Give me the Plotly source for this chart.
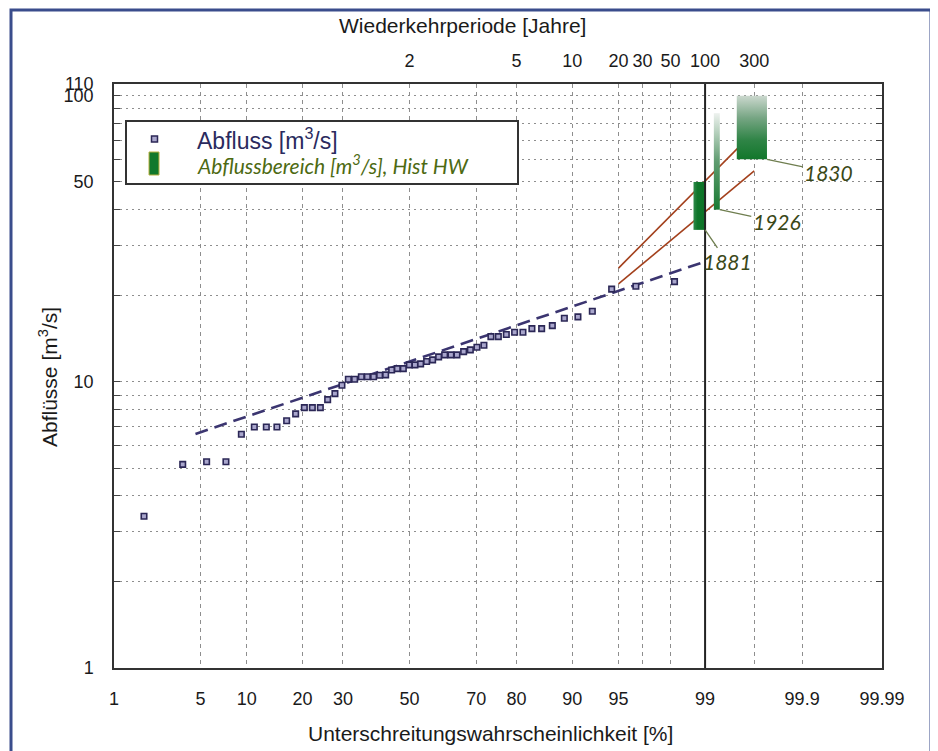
import math
from statistics import NormalDist
import plotly.graph_objects as go

# ---------------- data ----------------
prob_ticks = [1, 5, 10, 20, 30, 50, 70, 80, 90, 95, 99, 99.9, 99.99]
prob_labels = ["1", "5", "10", "20", "30", "50", "70", "80", "90", "95", "99", "99.9", "99.99"]
return_periods = [2, 5, 10, 20, 30, 50, 100, 300]
return_labels = ["2", "5", "10", "20", "30", "50", "100", "300"]
q_ticks = [1, 10, 50, 100, 110]
q_tick_labels = ["1", "10", "50", "100", "110"]
q_minor = [2, 3, 4, 5, 6, 7, 8, 9, 20, 30, 40, 60, 70, 80, 90]

# observed annual peaks: plotting position [%] and discharge [m3/s]
abfluss_p = [1.83, 3.71, 5.51, 7.42, 9.28, 11.09, 12.98, 14.83, 16.67, 18.50,
             20.38, 22.21, 24.13, 25.96, 27.85, 29.73, 31.50, 33.28, 35.22, 36.99,
             38.87, 40.70, 42.54, 44.40, 46.18, 48.05, 49.94, 51.70, 53.48, 55.35,
             57.21, 59.06, 60.88, 62.77, 64.55, 66.49, 68.39, 70.21, 72.09, 73.91,
             75.77, 77.69, 79.59, 81.40, 83.23, 85.08, 86.95, 88.85, 90.75, 92.49,
             94.42, 96.26, 98.15]
abfluss_q = [3.39, 5.15, 5.26, 5.26, 6.56, 6.96, 6.96, 6.96, 7.32, 7.73,
             8.13, 8.13, 8.13, 8.67, 9.10, 9.74, 10.22, 10.22, 10.43, 10.43,
             10.43, 10.55, 10.58, 11.01, 11.13, 11.13, 11.47, 11.47, 11.56, 11.78,
             11.94, 12.23, 12.43, 12.43, 12.43, 12.76, 12.94, 13.22, 13.44, 14.40,
             14.40, 14.64, 14.92, 14.92, 15.36, 15.36, 15.73, 16.70, 16.88, 17.67,
             21.10, 21.61, 22.42]

# fitted distribution (dashed)
fit_p = [4.6, 99.0]
fit_q = [6.58, 26.34]

# extrapolation lines (red)
upper_p = [95.0, 99.667]
upper_q = [25.0, 75.0]
lower_p = [95.0, 99.667]
lower_q = [22.0, 54.7]

# historical floods: discharge ranges
hist_years = ["1881", "1926", "1830"]
hist_p_left = [98.73, 99.17, 99.50]
hist_p_right = [99.0, 99.27, 99.755]
hist_q_low = [34.0, 40.0, 60.0]
hist_q_high = [50.0, 87.0, 100.0]

ref_line_p = 99.0

# ---------------- helpers ----------------
ND = NormalDist()


def zp(p):
    return ND.inv_cdf(p / 100.0)


# the page has an 8px body margin: build the figure 8px smaller and shifted
OFF = 8
W, H = 938 - OFF, 751 - OFF
PL, PR, PT, PB = 114, 882, 84, 668          # plot area in page pixels
ML, MT = PL - OFF, PT - OFF
MR, MB = W - (PR - OFF), H - (PB - OFF)
PW, PH = PR - PL, PB - PT


def px(x):
    return (x - PL) / PW


def py(y):
    return (PB - y) / PH


GRID = "#8e8e8e"
FONT = "Liberation Sans, Arial, sans-serif"
ITAL = "Lato, Noto Sans, sans-serif"

fig = go.Figure()

# fitted line
fig.add_trace(go.Scatter(
    x=[zp(p) for p in fit_p], y=fit_q, mode="lines",
    line=dict(color="#3b3570", width=2.6, dash="13px,7px"),
    showlegend=False, hoverinfo="skip"))

# red extrapolation lines
for pp, qq in [(upper_p, upper_q), (lower_p, lower_q)]:
    fig.add_trace(go.Scatter(
        x=[zp(p) for p in pp], y=qq, mode="lines",
        line=dict(color="#a3401c", width=1.6),
        showlegend=False, hoverinfo="skip"))

# historical flood ranges
grad = [[0, "#12772b"], [0.3, "#2f8446"], [0.65, "#76a583"], [1, "#cbd8ce"]]
for i, yr in enumerate(hist_years):
    xl, xr = zp(hist_p_left[i]), zp(hist_p_right[i])
    lo, hi = hist_q_low[i], hist_q_high[i]
    kw = dict(
        x=[xl, xr, xr, xl, xl], y=[lo, lo, hi, hi, lo],
        mode="lines", fill="toself", line=dict(width=0, color="rgba(0,0,0,0)"),
        showlegend=False, hoverinfo="skip", name=yr)
    if i == 0:
        kw["fillgradient"] = dict(type="horizontal",
                                  colorscale=[[0, "#2f8a4a"], [0.35, "#0f762a"], [1, "#0d7328"]])
    elif i == 1:
        kw["fillgradient"] = dict(type="vertical",
                                  colorscale=[[0, "#1a7b33"], [0.5, "#5f9c70"], [1, "#eef2ef"]])
    else:
        kw["fillgradient"] = dict(type="vertical", colorscale=grad)
    fig.add_trace(go.Scatter(**kw))

# observed discharge points
fig.add_trace(go.Scatter(
    x=[zp(p) for p in abfluss_p], y=abfluss_q, mode="markers",
    marker=dict(symbol="square", size=5.5, color="#a9a6cc",
                line=dict(color="#2b2756", width=1.6)),
    showlegend=False, name="Abfluss"))

# dummy trace for top axis
fig.add_trace(go.Scatter(x=[zp(50)], y=[None], xaxis="x2", showlegend=False,
                         hoverinfo="skip"))

xr_ = [zp(prob_ticks[0]), zp(prob_ticks[-1])]
fig.update_layout(
    width=W, height=H,
    margin=dict(l=ML, r=MR, t=MT, b=MB),
    paper_bgcolor="white", plot_bgcolor="white",
    font=dict(family=FONT, size=18, color="#1a1a1a"),
    xaxis=dict(
        range=xr_, tickmode="array",
        tickvals=[zp(p) for p in prob_ticks], ticktext=prob_labels,
        showgrid=True, gridcolor=GRID, gridwidth=1, griddash="4px,4px",
        minor=dict(tickvals=[zp(100 - 100 / t) for t in [30, 50, 300]],
                   showgrid=True, gridcolor=GRID, gridwidth=1, griddash="4px,4px"),
        showline=True, linecolor="#333333", linewidth=1.5, mirror=True,
        ticks="", zeroline=False, ticklabelstandoff=14,
        tickfont=dict(size=18, family=FONT)),
    xaxis2=dict(
        overlaying="x", side="top", range=xr_, tickmode="array",
        tickvals=[zp(100 - 100 / t) for t in return_periods], ticktext=return_labels,
        showgrid=False, showline=False, ticks="", zeroline=False,
        ticklabelstandoff=12, tickfont=dict(size=18, family=FONT)),
    yaxis=dict(
        type="log", range=[0, math.log10(110)], tickmode="array",
        tickvals=q_ticks, ticktext=q_tick_labels,
        showgrid=True, gridcolor=GRID, gridwidth=1, griddash="2px,4px",
        minor=dict(tickvals=q_minor, showgrid=True, gridcolor=GRID, gridwidth=1,
                   griddash="2px,4px", ticks="inside", ticklen=6, tickcolor="#444"),
        ticks="inside", ticklen=6, tickcolor="#444",
        showline=True, linecolor="#333333", linewidth=1.5, mirror="ticks",
        zeroline=False, ticklabelstandoff=15, tickfont=dict(size=18, family=FONT)),
)

shapes = []
# T = 100 reference line
shapes.append(dict(type="line", xref="x", yref="paper", x0=zp(ref_line_p), x1=zp(ref_line_p),
                   y0=0, y1=1, line=dict(color="#222222", width=2)))
# outer frame
shapes.append(dict(type="rect", xref="paper", yref="paper",
                   x0=px(11), x1=px(931), y0=py(760), y1=py(10),
                   line=dict(color="#3a4d8c", width=3)))
# legend box & symbols
shapes.append(dict(type="rect", xref="paper", yref="paper",
                   x0=px(126), x1=px(518), y0=py(184), y1=py(121),
                   line=dict(color="#333333", width=2), fillcolor="white"))
shapes.append(dict(type="rect", xref="paper", yref="paper",
                   x0=px(151.5), x1=px(157.5), y0=py(142), y1=py(136),
                   line=dict(color="#2b2756", width=1.5), fillcolor="#a9a6cc"))
shapes.append(dict(type="rect", xref="paper", yref="paper",
                   x0=px(149), x1=px(159), y0=py(175), y1=py(152),
                   line=dict(color="#b8b040", width=1), fillcolor="#11782c"))
fig.update_layout(shapes=shapes)

ann = []
ann.append(dict(text="Abfluss [m<sup>3</sup>/s]", xref="paper", yref="paper",
                x=px(195), y=py(139), xanchor="left", yanchor="middle", showarrow=False,
                font=dict(family=FONT, size=23, color="#2a2a5e")))
ann.append(dict(text="<i>Abflussbereich [m<sup>3</sup>/s], Hist HW</i>", xref="paper", yref="paper",
                x=px(195), y=py(164), xanchor="left", yanchor="middle", showarrow=False,
                font=dict(family=ITAL, size=21, color="#4d6a12")))
# axis titles
ann.append(dict(text="Wiederkehrperiode [Jahre]", xref="paper", yref="paper",
                x=px(462), y=py(26), showarrow=False, xanchor="center", yanchor="middle",
                font=dict(family=FONT, size=21, color="#1a1a1a")))
ann.append(dict(text="Unterschreitungswahrscheinlichkeit [%]", xref="paper", yref="paper",
                x=px(490), y=py(733), showarrow=False, xanchor="center", yanchor="middle",
                font=dict(family=FONT, size=21, color="#1a1a1a")))
ann.append(dict(text="Abflüsse [m<sup>3</sup>/s]", xref="paper", yref="paper",
                x=px(48), y=py(377), showarrow=False, textangle=-90,
                xanchor="center", yanchor="middle",
                font=dict(family=FONT, size=21, color="#1a1a1a")))
# historical labels
offsets = [(22, 32), (57, 12), (62, 13)]
for i, yr in enumerate(hist_years):
    ann.append(dict(text="<i>" + yr + "</i>", x=zp(hist_p_right[i]), y=math.log10(hist_q_low[i]),
                    xref="x", yref="y", ax=offsets[i][0], ay=offsets[i][1],
                    showarrow=True, arrowhead=0, arrowwidth=1.3, arrowcolor="#6f7e4f",
                    font=dict(family=ITAL, size=21, color="#3a4818")))
fig.update_layout(annotations=ann)

fig.write_html("out.html")
